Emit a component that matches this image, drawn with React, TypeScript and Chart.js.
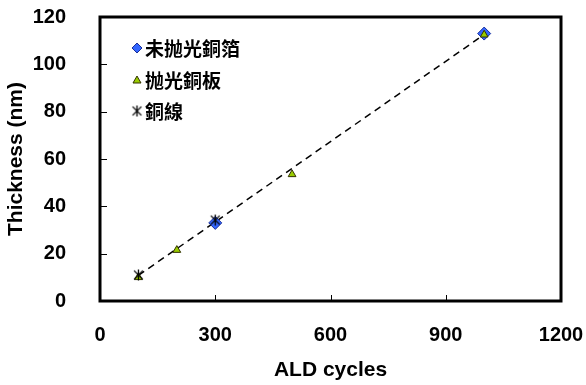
import React, { useEffect, useRef } from "react";
import { Chart, registerables } from "chart.js";

Chart.register(...registerables);

const seriesNames = ["未抛光銅箔", "抛光銅板", "銅線"];
const foilX = [300, 1000];
const foilY = [33, 113];
const plateX = [100, 200, 500, 1000];
const plateY = [10, 21.5, 53.5, 112.5];
const wireX = [100, 300];
const wireY = [11, 34.2];
const trendX = [100, 1000];
const trendY = [10.8, 112.6];
const xTicks = [0, 300, 600, 900, 1200];
const yTicks = [0, 20, 40, 60, 80, 100, 120];

function makeAsterisk(size: number): HTMLCanvasElement {
  const c = document.createElement("canvas");
  c.width = size;
  c.height = size;
  const g = c.getContext("2d")!;
  g.strokeStyle = "#000";
  g.lineWidth = 1.3;
  const m = size / 2;
  const r = size / 2 - 1;
  g.beginPath();
  g.moveTo(m - r * 0.8, m - r * 0.8);
  g.lineTo(m + r * 0.8, m + r * 0.8);
  g.moveTo(m + r * 0.8, m - r * 0.8);
  g.lineTo(m - r * 0.8, m + r * 0.8);
  g.moveTo(m, m - r);
  g.lineTo(m, m + r);
  g.stroke();
  return c;
}

export default function App() {
  const ref = useRef<HTMLCanvasElement | null>(null);
  useEffect(() => {
    if (!ref.current) return;
    const star = makeAsterisk(13);
    const toPts = (xs: number[], ys: number[]) => xs.map((x, i) => ({ x, y: ys[i] }));
    const font = "Arial, 'Liberation Sans', sans-serif";
    const cjk = "'Noto Sans CJK TC', 'Noto Sans CJK SC', sans-serif";

    const boxPlugin = {
      id: "boxPlugin",
      afterDraw(chart: any) {
        const { ctx, chartArea: a, scales } = chart;
        ctx.save();
        ctx.strokeStyle = "#000";
        ctx.lineWidth = 3;
        ctx.strokeRect(a.left, a.top, a.right - a.left, a.bottom - a.top);
        ctx.lineWidth = 1;
        ctx.beginPath();
        xTicks.slice(1, -1).forEach((v) => {
          const px = Math.round(scales.x.getPixelForValue(v)) + 0.5;
          ctx.moveTo(px, a.bottom);
          ctx.lineTo(px, a.bottom - 6);
        });
        yTicks.slice(1, -1).forEach((v) => {
          const py = Math.round(scales.y.getPixelForValue(v)) + 0.5;
          ctx.moveTo(a.left, py);
          ctx.lineTo(a.left + 7, py);
        });
        ctx.stroke();

        // legend
        const rows = [48, 80, 111];
        const mx = 137;
        ctx.fillStyle = "#3366FF";
        ctx.strokeStyle = "#1a2f99";
        ctx.lineWidth = 1;
        ctx.beginPath();
        ctx.moveTo(mx, rows[0] - 5);
        ctx.lineTo(mx + 5, rows[0]);
        ctx.lineTo(mx, rows[0] + 5);
        ctx.lineTo(mx - 5, rows[0]);
        ctx.closePath();
        ctx.fill();
        ctx.stroke();
        ctx.fillStyle = "#99CC00";
        ctx.strokeStyle = "#333300";
        ctx.beginPath();
        ctx.moveTo(mx, rows[1] - 4);
        ctx.lineTo(mx + 4, rows[1] + 3);
        ctx.lineTo(mx - 4, rows[1] + 3);
        ctx.closePath();
        ctx.fill();
        ctx.stroke();
        ctx.drawImage(star, mx - 6.5, rows[2] - 6.5);
        ctx.fillStyle = "#000";
        ctx.font = "bold 19px " + cjk;
        ctx.textAlign = "left";
        ctx.textBaseline = "middle";
        seriesNames.forEach((n, i) => ctx.fillText(n, 145, rows[i] + 1));
        ctx.restore();
      },
    };

    const chart = new Chart(ref.current, {
      type: "scatter",
      data: {
        datasets: [
          {
            label: "trend",
            type: "line",
            data: toPts(trendX, trendY),
            borderColor: "#000",
            borderWidth: 1.5,
            borderDash: [7, 5],
            pointRadius: 0,
            order: 5,
          } as any,
          {
            label: seriesNames[0],
            data: toPts(foilX, foilY),
            pointStyle: "rectRot",
            pointRadius: 6.5,
            backgroundColor: "#3366FF",
            borderColor: "#1a2f99",
            borderWidth: 1,
            order: 3,
          },
          {
            label: seriesNames[1],
            data: toPts(plateX, plateY),
            pointStyle: "triangle",
            pointRadius: 4.5,
            backgroundColor: "#99CC00",
            borderColor: "#333300",
            borderWidth: 1,
            order: 2,
          },
          {
            label: seriesNames[2],
            data: toPts(wireX, wireY),
            pointStyle: star as any,
            pointRadius: 6,
            order: 1,
          },
        ],
      },
      options: {
        animation: false,
        responsive: false,
        maintainAspectRatio: false,
        layout: { padding: { left: 0, top: 17, right: 25, bottom: 0 } },
        plugins: { legend: { display: false }, tooltip: { enabled: false } },
        scales: {
          x: {
            type: "linear",
            min: 0,
            max: 1200,
            afterBuildTicks: (s: any) => {
              s.ticks = xTicks.map((v) => ({ value: v }));
            },
            afterFit: (s: any) => {
              s.height = 84;
              s.paddingLeft = 0;
              s.paddingRight = 0;
            },
            grid: { display: false },
            border: { display: false },
            ticks: {
              color: "#000",
              font: { family: font, size: 20, weight: "bold" },
              padding: 14,
              maxRotation: 0,
              callback: (v: any) => String(v),
            },
            title: {
              display: true,
              text: "ALD cycles",
              color: "#000",
              font: { family: font, size: 21, weight: "bold" },
              padding: { top: 0, bottom: 2 },
            },
          },
          y: {
            type: "linear",
            min: 0,
            max: 120,
            afterBuildTicks: (s: any) => {
              s.ticks = yTicks.map((v) => ({ value: v }));
            },
            afterFit: (s: any) => {
              s.width = 100;
              s.paddingTop = 0;
              s.paddingBottom = 0;
            },
            grid: { display: false },
            border: { display: false },
            ticks: {
              color: "#000",
              font: { family: font, size: 20, weight: "bold" },
              padding: 26,
              callback: (v: any) => String(v),
            },
            title: {
              display: true,
              text: "Thickness (nm)",
              color: "#000",
              font: { family: font, size: 21, weight: "bold" },
              padding: { top: 4, bottom: 0 },
            },
          },
        },
      },
      plugins: [boxPlugin],
    });
    return () => chart.destroy();
  }, []);

  return (
    <div style={{ position: "absolute", left: 0, top: 0, width: 586, height: 385, background: "#fff" }}>
      <canvas ref={ref} width={586} height={385} style={{ width: 586, height: 385 }} />
    </div>
  );
}
